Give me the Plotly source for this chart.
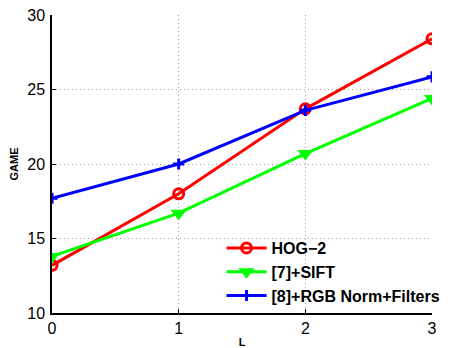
import plotly.graph_objects as go

L = [0, 1, 2, 3]
hog2 = [13.2, 18.0, 23.7, 28.4]
sift = [13.8, 16.7, 20.7, 24.4]
rgb = [17.7, 20.0, 23.6, 25.85]
names = ["HOG\u22122", "[7]+SIFT", "[8]+RGB Norm+Filters"]

fig = go.Figure()
fig.add_trace(go.Scatter(x=L, y=hog2, name=names[0], mode="lines+markers",
                         line=dict(color="#ff0000", width=3),
                         marker=dict(symbol="circle-open", size=10, color="#ff0000", line=dict(width=3))))
fig.add_trace(go.Scatter(x=L, y=sift, name=names[1], mode="lines+markers",
                         line=dict(color="#00ff00", width=3),
                         marker=dict(symbol="triangle-down", size=14, color="#00ff00")))
fig.add_trace(go.Scatter(x=L, y=rgb, name=names[2], mode="lines+markers",
                         line=dict(color="#0000ff", width=3),
                         marker=dict(symbol="cross-thin-open", size=8, color="#0000ff", line=dict(width=3, color="#0000ff"))))

font = "Liberation Sans, Arial, sans-serif"
grid = dict(showgrid=True, gridcolor="#a0a0a0", griddash="1px,3px", gridwidth=1,
            showline=True, linecolor="black", linewidth=1.5,
            ticks="inside", ticklen=4, tickcolor="black",
            zeroline=False, automargin=False, tickfont=dict(size=16),
            ticklabeloverflow="allow")
fig.update_layout(
    width=444, height=340,
    margin=dict(l=44, r=19, t=7, b=35),
    paper_bgcolor="white", plot_bgcolor="white",
    font=dict(family=font, size=16, color="black"),
    showlegend=True,
    legend=dict(x=0.445, y=0.0, xanchor="left", yanchor="bottom",
                bgcolor="rgba(255,255,255,0)", borderwidth=0,
                font=dict(size=16, family=font, weight="bold"),
                tracegroupgap=0, itemwidth=40),
    xaxis=dict(range=[0, 3], tickvals=[0, 1, 2, 3], ticklabelstandoff=0,
               title=dict(text="<b>L</b>", font=dict(size=11), standoff=4), **grid),
    yaxis=dict(range=[10, 30], tickvals=[10, 15, 20, 25, 30], ticklabelstandoff=2,
               title=dict(text="<b>GAME</b>", font=dict(size=11), standoff=8), **grid),
)
fig.write_html("out.html", config={"displayModeBar": False})
